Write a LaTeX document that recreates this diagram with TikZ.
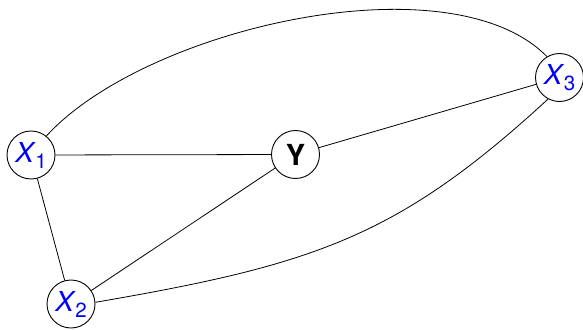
\documentclass[tikz,border=0pt]{standalone}
\usepackage{fontspec}
\setmainfont{TeX Gyre Heros}
\newcommand{\xsub}[1]{\textit{X}\kern-0.5pt\raisebox{-6pt}{\fontsize{20.5}{21}\selectfont #1}}
\begin{document}
\begin{tikzpicture}[x=1pt,y=-1pt,
  vnode/.style={circle,draw,line width=0.9pt,minimum size=48pt,inner sep=0pt,font=\fontsize{27.5}{30}\selectfont},
  xlab/.style={text=blue},
  edge/.style={line width=0.8pt}]
\useasboundingbox (0,0) rectangle (583,329);
\node[vnode,xlab] (x1) at (31,155) {\xsub{1}};
\node[vnode,font=\fontsize{29}{30}\selectfont] (y) at (295.5,154.5) {\textbf{Y}};
\node[vnode,xlab] (x2) at (71,304) {\xsub{2}};
\node[vnode,xlab] (x3) at (559.5,77.5) {\xsub{3}};
\draw[edge] (x1) -- (y);
\draw[edge] (x1) -- (x2);
\draw[edge] (x2) -- (y);
\draw[edge] (y) -- (x3);
\draw[edge] (x1.51) .. controls (145,28) and (450,-42) .. (x3.121);
\draw[edge] (x2.4) .. controls (314.7,264.6) and (398,237) .. (x3.-118);
\end{tikzpicture}
\end{document}
